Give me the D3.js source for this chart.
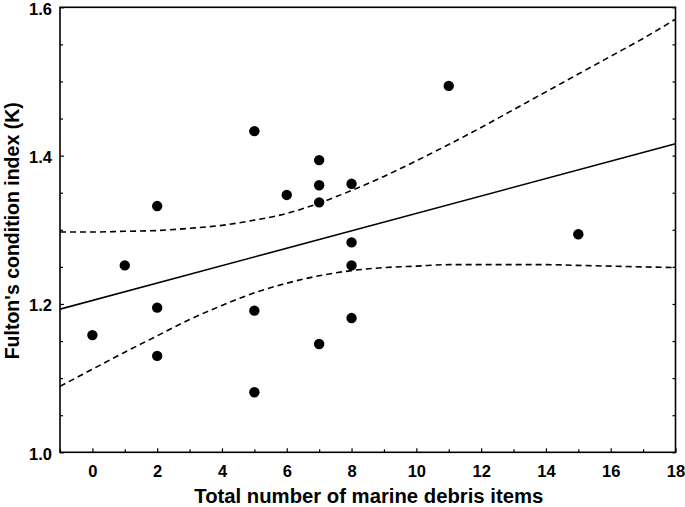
<!DOCTYPE html>
<html>
<head>
<meta charset="utf-8">
<script src="https://cdn.jsdelivr.net/npm/d3@7"></script>
<style>
  html, body { margin: 0; padding: 0; background: #fff; }
  svg { display: block; }
  text { font-family: "Liberation Sans", Arial, sans-serif; font-weight: bold; fill: #000; }
</style>
</head>
<body>
<svg id="chart" width="685" height="507"></svg>
<script>
// ---- Data ----
const debrisItems = [0, 1, 2, 2, 2, 5, 5, 5, 6, 7, 7, 7, 7, 8, 8, 8, 8, 11, 15];
const conditionK  = [1.158, 1.252, 1.332, 1.195, 1.130, 1.433, 1.191, 1.081, 1.347, 1.394, 1.360, 1.337, 1.146, 1.362, 1.283, 1.252, 1.181, 1.494, 1.294];

// Regression line (read at the plot edges)
const fitX = [-1, 18];
const fitY = [1.193, 1.416];

// Confidence band
const bandX     = [-1, 0, 1, 2, 3, 4, 5, 6, 7, 8, 9, 10, 11, 12, 13, 14, 15, 16, 17, 18];
const bandUpper = [1.297, 1.297, 1.298, 1.299, 1.302, 1.306, 1.313, 1.322, 1.336, 1.353, 1.372, 1.393, 1.415, 1.438, 1.462, 1.486, 1.510, 1.534, 1.558, 1.584];
const bandLower = [1.089, 1.112, 1.135, 1.157, 1.179, 1.198, 1.215, 1.228, 1.238, 1.245, 1.249, 1.251, 1.253, 1.253, 1.253, 1.253, 1.252, 1.251, 1.250, 1.249];

const xTicks = [0, 2, 4, 6, 8, 10, 12, 14, 16, 18];
const xMinorTicks = [-1, 1, 3, 5, 7, 9, 11, 13, 15, 17];
const yTicks = [1.0, 1.2, 1.4, 1.6];
const yMinorTicks = [1.05, 1.1, 1.15, 1.25, 1.3, 1.35, 1.45, 1.5, 1.55];

const xLabel = "Total number of marine debris items";
const yLabel = "Fulton's condition index (K)";

// ---- Layout ----
const svg = d3.select("#chart");
const mLeft = 60, mRight = 675.5, mTop = 7.3, mBottom = 452.3;

const x = d3.scaleLinear().domain([-1, 18]).range([mLeft, mRight]);
const y = d3.scaleLinear().domain([1.0, 1.6]).range([mBottom, mTop]);

// Axes (ticks inward)
const gx = svg.append("g").attr("transform", `translate(0,${mBottom})`)
  .call(d3.axisBottom(x).tickValues(xTicks).tickSize(-4).tickPadding(12.5).tickFormat(d3.format("d")));
const gxm = svg.append("g").attr("transform", `translate(0,${mBottom})`)
  .call(d3.axisBottom(x).tickValues(xMinorTicks).tickSize(-3).tickFormat(""));
const gy = svg.append("g").attr("transform", `translate(${mLeft},0)`)
  .call(d3.axisLeft(y).tickValues(yTicks).tickSize(-4).tickPadding(8).tickFormat(d3.format(".1f")));
const gym = svg.append("g").attr("transform", `translate(${mLeft},0)`)
  .call(d3.axisLeft(y).tickValues(yMinorTicks).tickSize(-3).tickFormat(""));
const gr = svg.append("g").attr("transform", `translate(${mRight},0)`)
  .call(d3.axisRight(y).tickValues(yTicks.concat(yMinorTicks)).tickSize(-3).tickFormat(""));

[gx, gxm, gy, gym, gr].forEach(g => {
  g.select(".domain").remove();
  g.selectAll("line").attr("stroke", "#000").attr("stroke-width", 1.2);
  g.selectAll("text").style("font-size", "16.5px").style("font-weight", "bold")
    .style("font-family", "'Liberation Sans', Arial, sans-serif").attr("fill", "#000");
});
gx.selectAll("text").attr("dy", "0.71em");
gy.selectAll("text").attr("dy", "0.42em");

// Frame
svg.append("rect")
  .attr("x", mLeft).attr("y", mTop)
  .attr("width", mRight - mLeft).attr("height", mBottom - mTop)
  .attr("fill", "none").attr("stroke", "#000").attr("stroke-width", 1.6);

// Clip
svg.append("clipPath").attr("id", "clip").append("rect")
  .attr("x", mLeft).attr("y", mTop).attr("width", mRight - mLeft).attr("height", mBottom - mTop);

const plot = svg.append("g").attr("clip-path", "url(#clip)");

// Confidence band lines
const bandLine = d3.line().curve(d3.curveMonotoneX).x(d => x(d[0])).y(d => y(d[1]));
plot.append("path").datum(bandX.map((v, i) => [v, bandUpper[i]]))
  .attr("d", bandLine).attr("fill", "none").attr("stroke", "#000")
  .attr("stroke-width", 1.6).attr("stroke-dasharray", "6,4");
plot.append("path").datum(bandX.map((v, i) => [v, bandLower[i]]))
  .attr("d", bandLine).attr("fill", "none").attr("stroke", "#000")
  .attr("stroke-width", 1.6).attr("stroke-dasharray", "6,4");

// Regression line
plot.append("path").datum(fitX.map((v, i) => [v, fitY[i]]))
  .attr("d", d3.line().x(d => x(d[0])).y(d => y(d[1])))
  .attr("fill", "none").attr("stroke", "#000").attr("stroke-width", 1.6);

// Points
svg.append("g").selectAll("circle")
  .data(debrisItems.map((v, i) => [v, conditionK[i]]))
  .join("circle")
  .attr("cx", d => x(d[0])).attr("cy", d => y(d[1]))
  .attr("r", 5.2).attr("fill", "#000");

// Axis titles
svg.append("text")
  .attr("x", (mLeft + mRight) / 2 + 1).attr("y", 503)
  .attr("text-anchor", "middle")
  .style("font-size", "20.3px")
  .text(xLabel);

svg.append("text")
  .attr("transform", `translate(19,${(mTop + mBottom) / 2 + 1}) rotate(-90)`)
  .attr("text-anchor", "middle")
  .style("font-size", "19.5px")
  .text(yLabel);
</script>
</body>
</html>
